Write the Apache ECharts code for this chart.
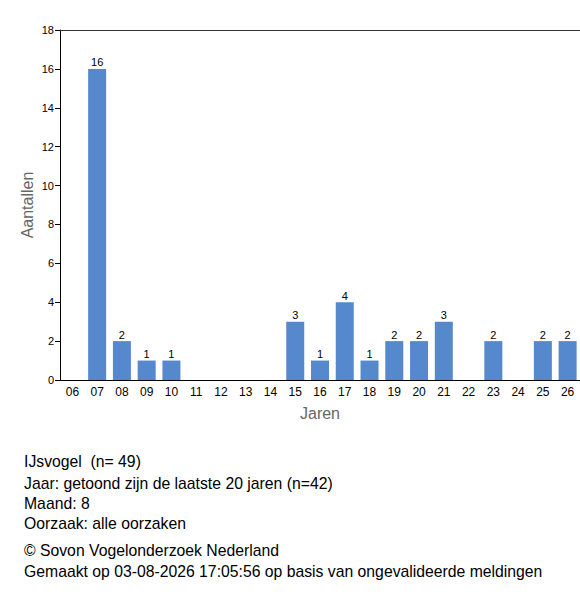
<!DOCTYPE html>
<html lang="nl">
<head>
    <meta charset="UTF-8">
    <title>IJsvogel</title>
    <script src="https://cdn.jsdelivr.net/npm/echarts@6/dist/echarts.min.js"></script>
    <style>
        html,
        body {
            margin: 0px;
            width: 580px;
            height: 600px;
            background-color: white;
            font-family: 'Liberation Sans', Arial, sans-serif;
        }

        #chart {
            width: 580px;
            height: 440px;
        }

        .info {
            position: absolute;
            left: 24px;
            font-size: 15.75px;
            color: #000;
            line-height: 20px;
        }
    </style>
    <script>
        var jaren = ['06', '07', '08', '09', '10', '11', '12', '13', '14', '15', '16',
            '17', '18', '19', '20', '21', '22', '23', '24', '25', '26'];
        var aantallen = [0, 16, 2, 1, 1, 0, 0, 0, 0, 3, 1, 4, 1, 2, 2, 3, 0, 2, 0, 2, 2];
        var yTicks = [0, 2, 4, 6, 8, 10, 12, 14, 16, 18];

        window.onload = () => {
            var chart = echarts.init(document.getElementById('chart'), null, { renderer: 'svg' });
            chart.setOption({
                animation: false,
                textStyle: { fontFamily: 'Liberation Sans' },
                grid: { left: 60, right: 0, top: 30, bottom: 60 },
                xAxis: [{
                    type: 'category',
                    data: jaren,
                    name: 'Jaren',
                    nameLocation: 'middle',
                    nameGap: 25,
                    nameTextStyle: { fontSize: 16, color: '#666' },
                    axisLine: { lineStyle: { color: '#000', width: 1 } },
                    axisTick: { alignWithLabel: true, length: 5, lineStyle: { color: '#000' } },
                    axisLabel: { fontSize: 12, color: '#000', margin: 6 }
                }, {
                    type: 'category',
                    position: 'top',
                    data: jaren,
                    axisLine: { lineStyle: { color: '#333', width: 1 } },
                    axisTick: { show: false },
                    axisLabel: { show: false }
                }],
                yAxis: {
                    type: 'value',
                    min: yTicks[0],
                    max: yTicks[yTicks.length - 1],
                    interval: 2,
                    name: 'Aantallen',
                    nameLocation: 'middle',
                    nameGap: 25,
                    nameMoveOverlap: false,
                    nameTextStyle: { fontSize: 16, color: '#666' },
                    axisLine: { show: true, lineStyle: { color: '#000', width: 1 } },
                    axisTick: { show: true, length: 5, lineStyle: { color: '#000' } },
                    axisLabel: { fontSize: 11, color: '#000', margin: 6 },
                    splitLine: { show: false }
                },
                series: [{
                    type: 'bar',
                    data: aantallen,
                    barWidth: 18,
                    itemStyle: { color: '#5588cc' },
                    label: {
                        show: true,
                        position: 'top',
                        distance: 1,
                        fontSize: 11,
                        color: '#000',
                        formatter: function (p) { return p.value > 0 ? p.value : ''; }
                    }
                }]
            });
        };
    </script>
</head>
<body>
    <div id="chart"></div>
    <div class="info" style="top:452px;">IJsvogel&nbsp; (n= 49)</div>
    <div class="info" style="top:474px;">Jaar: getoond zijn de laatste 20 jaren (n=42)</div>
    <div class="info" style="top:494px;">Maand: 8</div>
    <div class="info" style="top:514px;">Oorzaak: alle oorzaken</div>
    <div class="info" style="top:541px;">© Sovon Vogelonderzoek Nederland</div>
    <div class="info" style="top:562px;">Gemaakt op 03-08-2026 17:05:56 op basis van ongevalideerde meldingen</div>
</body>
</html>
